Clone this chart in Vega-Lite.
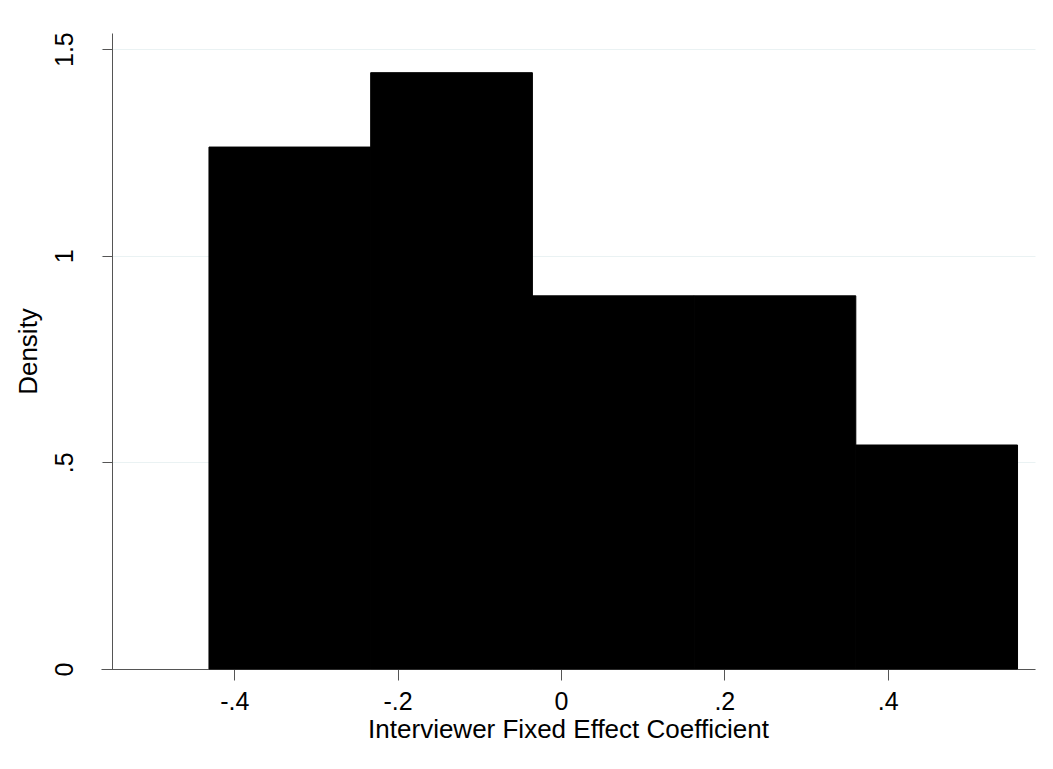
{
  "$schema": "https://vega.github.io/schema/vega-lite/v6.json",
  "autosize": {"type": "none"},
  "padding": {"left": 101, "top": 33, "right": 18, "bottom": 100},
  "width": 934,
  "height": 636,
  "background": "white",
  "config": {
    "view": {"stroke": null},
    "font": "Liberation Sans"
  },
  "data": {
    "values": [
      {"bin_start": -0.431, "bin_end": -0.233, "density": 1.263},
      {"bin_start": -0.233, "bin_end": -0.035, "density": 1.443},
      {"bin_start": -0.035, "bin_end": 0.163, "density": 0.903},
      {"bin_start": 0.163, "bin_end": 0.361, "density": 0.903},
      {"bin_start": 0.361, "bin_end": 0.559, "density": 0.542}
    ]
  },
  "mark": {"type": "rect", "color": "black", "stroke": "black", "strokeWidth": 1},
  "encoding": {
    "x": {
      "field": "bin_start",
      "type": "quantitative",
      "scale": {"domain": [-0.5632, 0.5804], "nice": false, "zero": false},
      "axis": {
        "title": "Interviewer Fixed Effect Coefficient",
        "values": [-0.4, -0.2, 0, 0.2, 0.4],
        "labelExpr": "(datum.value < 0 ? '-' : '') + (datum.value == 0 ? '0' : replace(format(abs(datum.value), '.1f'), '0.', '.'))",
        "grid": false,
        "domainColor": "#555555",
        "tickColor": "#555555",
        "tickSize": 11,
        "labelFontSize": 25,
        "labelColor": "black",
        "labelBaseline": "alphabetic",
        "labelPadding": 29,
        "titleFontSize": 26,
        "titleFontWeight": "normal",
        "titleColor": "black",
        "titleBaseline": "alphabetic",
        "titleY": 68
      }
    },
    "x2": {"field": "bin_end"},
    "y": {
      "field": "density",
      "type": "quantitative",
      "scale": {"domain": [0, 1.539], "nice": false},
      "axis": {
        "title": "Density",
        "values": [0, 0.5, 1, 1.5],
        "labelExpr": "datum.value == 0 ? '0' : replace(format(datum.value, '~g'), '0.', '.')",
        "offset": -11,
        "grid": true,
        "gridColor": "#eaf2f3",
        "gridWidth": 1,
        "domainColor": "#555555",
        "tickColor": "#555555",
        "tickSize": 10,
        "labelFontSize": 25,
        "labelColor": "black",
        "labelAngle": -90,
        "labelAlign": "center",
        "labelBaseline": "alphabetic",
        "labelPadding": 30,
        "titleFontSize": 26,
        "titleFontWeight": "normal",
        "titleColor": "black",
        "titleAngle": -90,
        "titleBaseline": "alphabetic",
        "titleX": -76,
        "titleY": 318
      }
    },
    "y2": {"datum": 0}
  }
}
